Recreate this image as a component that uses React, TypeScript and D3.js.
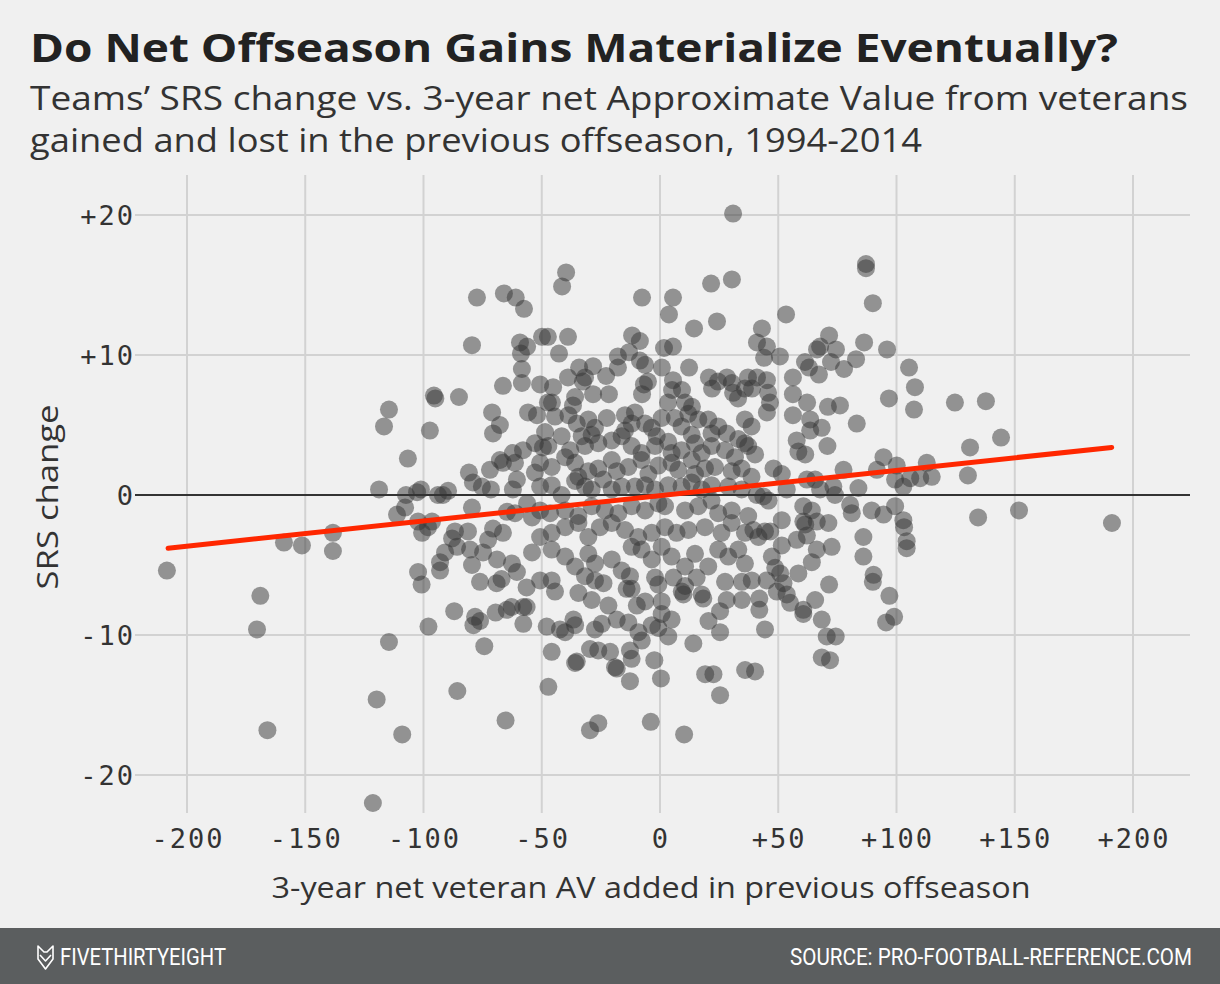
import React from "react";
import * as d3 from "d3";

const W = 1220;
const H = 984;

const titleText = "Do Net Offseason Gains Materialize Eventually?";
const subtitleLines = [
  "Teams’ SRS change vs. 3-year net Approximate Value from veterans",
  "gained and lost in the previous offseason, 1994-2014",
];
const xAxisTitle = "3-year net veteran AV added in previous offseason";
const yAxisTitle = "SRS change";
const footerBrand = "FIVETHIRTYEIGHT";
const footerSource = "SOURCE: PRO-FOOTBALL-REFERENCE.COM";

const xTicks = [-200, -150, -100, -50, 0, 50, 100, 150, 200];
const yTicks = [20, 10, 0, -10, -20];

// regression line endpoints (net AV, SRS change)
const trendAV = [-208, 191];
const trendSRS = [-3.8, 3.4];

// [3-year net veteran AV added, SRS change]
const outlierSeasons: [number, number][] = [
  [-208.5, -5.4], [-159, -3.4], [-151.4, -3.6], [-138.3, -2.7], [-138.3, -4.0],
  [-169, -7.2], [-170.4, -9.6], [-166, -16.8], [137.8, 6.7], [144.2, 4.1],
  [131.1, 3.4], [130.2, 1.4], [134.5, -1.6], [151.8, -1.1], [191.1, -2.0],
  [30.9, 20.1], [-121.4, -22.0],
];

const upperLeftSeasons: [number, number][] = [
  [-77.4, 14.1], [-66, 14.4], [-61, 14.1], [-57.5, 13.3], [-79.5, 10.7], [-59.2, 10.9],
  [-56.2, 10.6], [-58.8, 10.1], [-58.4, 9.0], [-58.4, 8.0], [-66.4, 7.8], [-50.7, 7.9],
  [-49.9, 11.3], [-47.4, 11.3], [-95.6, 7.1], [-95, 6.9], [-85, 7.0], [-114.6, 6.1],
  [-71, 5.9], [-55.8, 5.9], [-52, 5.7], [-47.4, 6.6],
];

const upperMidSeasons: [number, number][] = [
  [-39.7, 15.9], [-41.4, 14.9], [-7.6, 14.1], [5.5, 14.1], [3.8, 12.9], [21.6, 15.1],
  [30.4, 15.4], [24.1, 12.4], [14.4, 11.9], [-38.9, 11.3], [-42.7, 10.1], [-11.8, 11.4],
  [-8.5, 11.0], [-13.1, 10.2], [-17.8, 9.9], [-17.8, 9.1], [-8.5, 9.6], [-6.3, 9.3],
  [1.7, 10.5], [5.5, 10.6], [0.8, 9.1], [12.3, 9.1], [-34.2, 9.1], [-28.3, 9.2],
  [-31.7, 8.4], [-32.6, 8.1], [-38.9, 8.4], [-22.8, 8.5], [-45.2, 7.7], [-45.7, 6.6],
  [-35.9, 7.0], [-36.8, 6.4], [-28.3, 7.2], [-21.6, 7.2], [-5.1, 8.1], [-6.8, 7.9],
  [-7.6, 7.2], [5.5, 8.2], [5.1, 7.5], [9.3, 7.5], [3.4, 6.6], [10.6, 6.6], [13.5, 6.3],
  [20.7, 8.4], [24.5, 8.1], [28.3, 8.4], [22, 7.6], [30.4, 8.0], [37.2, 8.4], [35.9, 7.6],
  [30.9, 7.3], [33, 6.9], [-10.6, 5.9],
];

const upperRightSeasons: [number, number][] = [
  [87.1, 16.5], [87.1, 16.2], [90, 13.7], [53.3, 12.9], [43.1, 11.9], [41, 10.9],
  [45.2, 10.6], [44, 9.8], [50.7, 9.9], [71.5, 11.4], [67.7, 10.6], [66.4, 10.4],
  [74.4, 10.4], [86.3, 10.9], [96, 10.4], [82.9, 9.7], [72.3, 9.5], [61.3, 9.5], [63, 9.1],
  [77.8, 9.0], [67.2, 8.6], [56.2, 8.4], [105.3, 9.1], [107.8, 7.7], [107.4, 6.1],
  [96.8, 6.9], [124.7, 6.6], [56.2, 7.2], [62.2, 6.6], [71, 6.3], [76.1, 6.4], [41, 8.4],
  [45.2, 8.2], [38.9, 7.6], [45.7, 7.3], [46.5, 6.6], [45.2, 5.9], [56.2, 5.7],
];

const middleLeftSeasons: [number, number][] = [
  [-116.7, 4.9], [-97.3, 4.6], [-106.6, 2.6], [-118.8, 0.4], [-107.4, 0.0], [-102.7, 0.2],
  [-101.1, 0.4], [-93.9, 0.0], [-89.6, 0.3], [-91.8, 0.0], [-111.2, -1.4], [-107.8, -0.9],
  [-102.3, -1.9], [-98.1, -2.3], [-96.4, -1.9], [-100.6, -2.7], [-80.8, 1.6], [-79.1, 0.9],
  [-75.3, 0.6], [-71.5, 0.4], [-71.9, 1.8], [-66.4, 2.3], [-67.7, 2.5], [-62.2, 3.0],
  [-57.9, 3.2], [-61.3, 2.3], [-60.5, 1.1], [-62.2, 0.4], [-52.9, 3.7], [-49.5, 3.4],
  [-50.7, 2.3], [-52.9, 1.6], [-50.7, 0.6], [-79.5, -0.9], [-64.7, -1.2], [-61.3, -1.3],
  [-56.2, -0.6], [-54.1, -1.6], [-50.7, -1.1], [-86.7, -2.6], [-81.2, -2.6], [-70.6, -2.4],
  [-66.4, -2.7], [-87.9, -3.1], [-85.8, -3.7], [-90.9, -4.1], [-93.0, -4.8], [-80.3, -3.9],
  [-74.8, -4.1], [-72.7, -3.2], [-68.9, -4.6], [-62.6, -4.9], [-54.1, -4.1], [-50.7, -3.0],
  [-67.7, 5.0], [-70.6, 4.4], [-48.6, 4.5],
];

const centerSeasons: [number, number][] = [
  [-44.4, 5.6], [-38.7, 5.7], [-35.2, 5.1], [-30.3, 5.4], [-27.5, 4.8], [-22.5, 5.5],
  [-28.9, 4.3], [-14.8, 5.7], [-14.8, 4.6], [-12.0, 5.1], [-6.3, 5.1], [-3.5, 4.8],
  [0.7, 5.5], [-1.4, 4.2], [6.3, 5.5], [12.0, 5.8], [16.2, 5.4], [20.4, 5.4], [9.1, 4.9],
  [13.4, 4.3], [21.8, 4.4], [24.6, 4.9], [28.2, 4.4], [35.9, 5.4], [38.7, 4.9], [35.9, 3.7],
  [33.1, 4.0],
  [-47.2, 3.5], [-41.6, 4.2], [-38.0, 3.2], [-33.1, 4.2], [-31.7, 3.5], [-26.1, 3.7],
  [-20.4, 3.9], [-16.2, 4.2], [-12.0, 3.5], [-7.8, 3.0], [-2.1, 3.5], [3.5, 3.8], [4.9, 3.0],
  [9.1, 3.2], [14.8, 3.7], [17.6, 3.0], [21.8, 3.5], [27.5, 3.2], [31.7, 2.7], [37.3, 3.5],
  [-45.8, 2.0], [-40.1, 2.7], [-35.9, 2.3], [-34.5, 1.3], [-30.3, 1.7], [-26.1, 1.9],
  [-20.4, 2.5], [-18.3, 1.7], [-24.0, 1.1], [-13.4, 2.0], [-7.8, 2.5], [-4.9, 1.5],
  [-0.7, 2.1], [4.9, 2.3], [7.7, 1.8], [13.4, 2.5], [14.8, 1.5], [19.0, 1.9], [23.2, 2.0],
  [30.3, 1.7], [34.5, 1.9], [38.7, 1.3],
  [-45.8, 0.7], [-41.6, 0.0], [-35.9, 1.0], [-31.7, 0.6], [-28.9, 0.4], [-20.4, 0.4],
  [-16.2, 0.6], [-10.6, 0.6], [-6.3, 0.7], [-2.1, 0.4], [3.5, 0.7], [9.1, 0.6], [13.4, 0.9],
  [17.6, 0.4], [21.8, 0.7], [28.9, 0.6], [34.5, 0.4],
  [-46.5, -1.3], [-40.1, -1.1], [-34.5, -1.5], [-28.9, -0.8], [-23.3, -1.1], [-17.6, -1.3],
  [-12.0, -0.8], [-6.3, -1.1], [-0.7, -0.6], [2.1, -0.8], [10.6, -1.1], [16.2, -0.8],
  [21.8, -0.4], [24.6, -1.3], [30.3, -1.1], [37.3, -1.5],
  [-45.8, -2.7], [-40.1, -2.3], [-34.5, -2.0], [-30.3, -3.0], [-25.4, -2.3], [-20.4, -2.0],
  [-14.8, -2.5], [-9.2, -3.0], [-3.5, -2.7], [2.1, -2.3], [7.0, -2.7], [12.0, -2.5],
  [19.0, -2.3], [26.0, -2.7], [30.3, -2.0], [35.9, -2.7],
  [-45.8, -3.9], [-40.1, -4.4], [-35.9, -5.1], [-30.3, -4.2], [-27.5, -4.9], [-20.4, -4.6],
  [-16.2, -5.4], [-12.0, -3.7], [-7.8, -3.9], [-3.5, -4.6], [0.7, -3.7], [4.9, -4.4],
  [10.6, -5.1], [14.8, -4.2], [20.4, -5.1], [24.6, -3.9], [28.9, -4.4], [33.1, -3.9],
  [35.9, -4.9],
];

const middleRightSeasons: [number, number][] = [
  [63.5, 5.4], [63.5, 4.6], [68.4, 4.8], [83.2, 5.1], [57.8, 3.9], [58.5, 3.1], [61.4, 2.9],
  [70.8, 3.5], [40.2, 2.9], [48.0, 1.9], [51.5, 1.5], [62.1, 1.1], [65.6, 1.1], [67.7, 0.4],
  [73.3, 0.6], [77.6, 1.8], [83.9, 0.5], [94.5, 2.7], [91.7, 1.8], [100.1, 2.1], [99.4, 1.1],
  [102.9, 0.6], [105.8, 1.2], [110.0, 1.2], [112.8, 2.3], [114.9, 1.3], [53.6, 0.4],
  [40.9, 0.0], [43.7, -0.1], [45.9, -0.4], [74.0, 0.0], [80.4, -0.7], [81.1, -1.3],
  [60.6, -0.8], [64.2, -1.1], [51.5, -1.8], [60.6, -1.9], [61.4, -2.1], [66.3, -1.9],
  [71.2, -2.0], [62.1, -2.9], [57.8, -3.2], [89.5, -1.1], [94.5, -1.4], [99.4, -0.8],
  [102.9, -1.8], [103.2, -2.3], [104.3, -3.3], [104.3, -3.8], [86.0, -3.0], [86.0, -4.4],
  [39.5, -2.5], [44.4, -2.6], [46.6, -2.6], [41.6, -3.0], [51.5, -3.6], [47.3, -4.4],
  [66.3, -3.9], [72.6, -3.7], [64.2, -4.8], [48.7, -5.2], [90.3, -5.7],
];

const lowerLeftSeasons: [number, number][] = [
  [-100.8, -6.4], [-93.0, -5.4], [-76.1, -6.2], [-69.1, -6.3], [-67.0, -6.0], [-56.4, -6.6],
  [-50.7, -6.1], [-87.0, -8.3], [-78.2, -8.7], [-78.9, -9.3], [-76.1, -9.0], [-69.5, -8.4],
  [-64.8, -8.2], [-62.7, -8.0], [-57.8, -8.0], [-56.4, -8.0], [-57.8, -9.2], [-97.9, -9.4],
  [-74.3, -10.8], [-114.6, -10.5], [-85.7, -14.0], [-119.8, -14.6], [-65.3, -16.1],
  [-109.0, -17.1], [-60.5, -5.5], [-102.3, -5.5], [-79.5, -5.0],
];

const lowerMidSeasons: [number, number][] = [
  [-45.8, -6.1], [-31.7, -5.8], [-27.5, -6.1], [-23.9, -6.3], [-12.7, -5.8], [-14.1, -6.7],
  [-12.0, -6.7], [-2.1, -5.9], [-0.7, -6.4], [5.7, -5.9], [9.2, -6.9], [9.9, -7.1],
  [10.6, -6.5], [15.5, -5.9], [17.6, -7.1], [18.3, -7.4], [27.5, -6.2], [34.6, -6.2],
  [38.8, -6.1], [28.2, -7.5], [34.6, -7.5], [25.4, -8.3], [20.5, -9.0], [25.4, -9.8],
  [-44.4, -6.9], [-34.5, -7.0], [-28.9, -7.5], [-21.8, -7.9], [-9.8, -7.9], [-6.3, -7.6],
  [0.7, -7.6], [-18.3, -8.9], [-13.4, -9.1], [-24.6, -9.2], [-27.5, -9.6], [-36.6, -8.9],
  [-35.9, -9.3], [-40.1, -9.8], [-42.3, -9.6], [-47.9, -9.4], [-9.1, -9.8], [-7.7, -10.4],
  [-3.5, -9.3], [-0.7, -9.5], [3.5, -10.1], [4.9, -8.9], [0.7, -8.5], [14.1, -10.6],
  [-29.6, -11.0], [-26.1, -11.1], [-21.1, -11.2], [-12.7, -11.1], [-12.0, -11.7],
  [-18.3, -12.4], [-19.0, -12.3], [-35.2, -11.9], [-35.9, -12.0], [-45.8, -11.2],
  [-47.2, -13.7], [-12.7, -13.3], [-2.4, -11.8], [0.4, -13.1], [19.1, -12.8], [22.6, -12.8],
  [36.0, -12.5], [40.2, -12.6], [25.4, -14.3], [-26.1, -16.3], [-29.6, -16.8], [-3.9, -16.2],
  [10.2, -17.1],
];

const lowerRightSeasons: [number, number][] = [
  [45.1, -6.1], [50.8, -5.6], [58.5, -5.6], [52.2, -6.3], [49.4, -6.9], [53.6, -7.1],
  [55.0, -7.7], [60.6, -8.5], [60.6, -8.2], [65.6, -7.5], [71.5, -6.4], [42.0, -7.4],
  [42.0, -8.2], [44.4, -9.6], [68.4, -8.9], [70.5, -10.1], [74.3, -10.1], [68.4, -11.6],
  [71.9, -11.8], [90.0, -6.2], [97.0, -7.2], [95.6, -9.1], [99.0, -8.7],
];

const allSeasons: [number, number][] = [
  ...outlierSeasons,
  ...upperLeftSeasons,
  ...upperMidSeasons,
  ...upperRightSeasons,
  ...middleLeftSeasons,
  ...centerSeasons,
  ...middleRightSeasons,
  ...lowerLeftSeasons,
  ...lowerMidSeasons,
  ...lowerRightSeasons,
];

const fmtTick = (v: number) => (v > 0 ? `+${v}` : `${v}`);

export default function App() {
  const x = d3.scaleLinear().domain([-200, 200]).range([187, 1133]);
  const y = d3.scaleLinear().domain([-20, 20]).range([775, 215]);

  const plotLeft = 135;
  const plotRight = 1190;
  const plotTop = 175;
  const plotBottom = 813;

  const trendPath = d3
    .line<number>()
    .x((d) => x(d))
    .y((_, i) => y(trendSRS[i]))(trendAV) as string;

  const sans = "'Open Sans', Roboto, 'DejaVu Sans', sans-serif";
  const cond = "Roboto, 'DejaVu Sans', sans-serif";
  const mono = "'DejaVu Sans Mono', 'Liberation Mono', monospace";
  const subtitleWidths = [1158, 892];

  return (
    <svg
      width={W}
      height={H}
      viewBox={`0 0 ${W} ${H}`}
      style={{ position: "absolute", left: 0, top: 0, display: "block" }}
    >
      <rect x={0} y={0} width={W} height={H} fill="#f0f0f0" />

      <text
        x={30}
        y={62}
        fontFamily={sans}
        fontWeight={700}
        fontSize={40}
        fill="#222"
        textLength={1088}
        lengthAdjust="spacingAndGlyphs"
      >
        {titleText}
      </text>
      {subtitleLines.map((t, i) => (
        <text
          key={i}
          x={30}
          y={110 + i * 42}
          fontFamily={sans}
          fontSize={32}
          fill="#333"
          textLength={subtitleWidths[i]}
          lengthAdjust="spacingAndGlyphs"
        >
          {t}
        </text>
      ))}

      {/* vertical grid */}
      {xTicks.map((t) => (
        <line
          key={`vx${t}`}
          x1={x(t)}
          x2={x(t)}
          y1={plotTop}
          y2={plotBottom}
          stroke="#d2d2d2"
          strokeWidth={2}
        />
      ))}
      {/* horizontal grid */}
      {yTicks
        .filter((t) => t !== 0)
        .map((t) => (
          <line
            key={`hy${t}`}
            x1={plotLeft}
            x2={plotRight}
            y1={y(t)}
            y2={y(t)}
            stroke="#d2d2d2"
            strokeWidth={2}
          />
        ))}
      <line x1={plotLeft} x2={plotRight} y1={y(0)} y2={y(0)} stroke="#333" strokeWidth={2} />

      {/* points */}
      <g>
        {allSeasons.map((d, i) => (
          <circle key={i} cx={x(d[0])} cy={y(d[1])} r={9} fill="#333" fillOpacity={0.5} />
        ))}
      </g>

      <path d={trendPath} stroke="#ff2700" strokeWidth={5} strokeLinecap="round" fill="none" />

      {/* y tick labels */}
      {yTicks.map((t) => (
        <text
          key={`yl${t}`}
          x={135}
          y={y(t)}
          dy="0.36em"
          textAnchor="end"
          fontFamily={mono}
          fontSize={27}
          letterSpacing={2}
          fill="#333"
        >
          {fmtTick(t)}
        </text>
      ))}
      {/* x tick labels */}
      {xTicks.map((t) => (
        <text
          key={`xl${t}`}
          x={x(t) + 1}
          y={848}
          textAnchor="middle"
          fontFamily={mono}
          fontSize={27}
          letterSpacing={2}
          fill="#333"
        >
          {fmtTick(t)}
        </text>
      ))}

      <text
        x={651}
        y={898}
        textAnchor="middle"
        fontFamily={sans}
        fontSize={29}
        fill="#333"
        textLength={759}
        lengthAdjust="spacingAndGlyphs"
      >
        {xAxisTitle}
      </text>
      <text
        transform={`translate(58, 497) rotate(-90)`}
        textAnchor="middle"
        fontFamily={sans}
        fontSize={29}
        fill="#333"
        textLength={185}
        lengthAdjust="spacingAndGlyphs"
      >
        {yAxisTitle}
      </text>

      {/* footer */}
      <rect x={0} y={928} width={W} height={56} fill="#5b5e5f" />
      <g stroke="#fff" strokeWidth={1.6} fill="none" strokeLinejoin="round">
        <path d="M38,946 L44,952 L47,952 L53,946 L53,959 L45.5,969 L38,959 Z" />
        <path d="M40,955 L45.5,961 L51,955" />
      </g>
      <g transform="translate(60,965) scale(0.8,1)">
        <text
          x={0}
          y={0}
          fontFamily={cond}
          fontSize={24}
          fill="#fff"
          textLength={166 / 0.8}
          lengthAdjust="spacingAndGlyphs"
        >
          {footerBrand}
        </text>
      </g>
      <g transform="translate(1192,965) scale(0.8,1)">
        <text
          x={0}
          y={0}
          textAnchor="end"
          fontFamily={cond}
          fontSize={24}
          fill="#fff"
          textLength={402 / 0.8}
          lengthAdjust="spacingAndGlyphs"
        >
          {footerSource}
        </text>
      </g>
    </svg>
  );
}
